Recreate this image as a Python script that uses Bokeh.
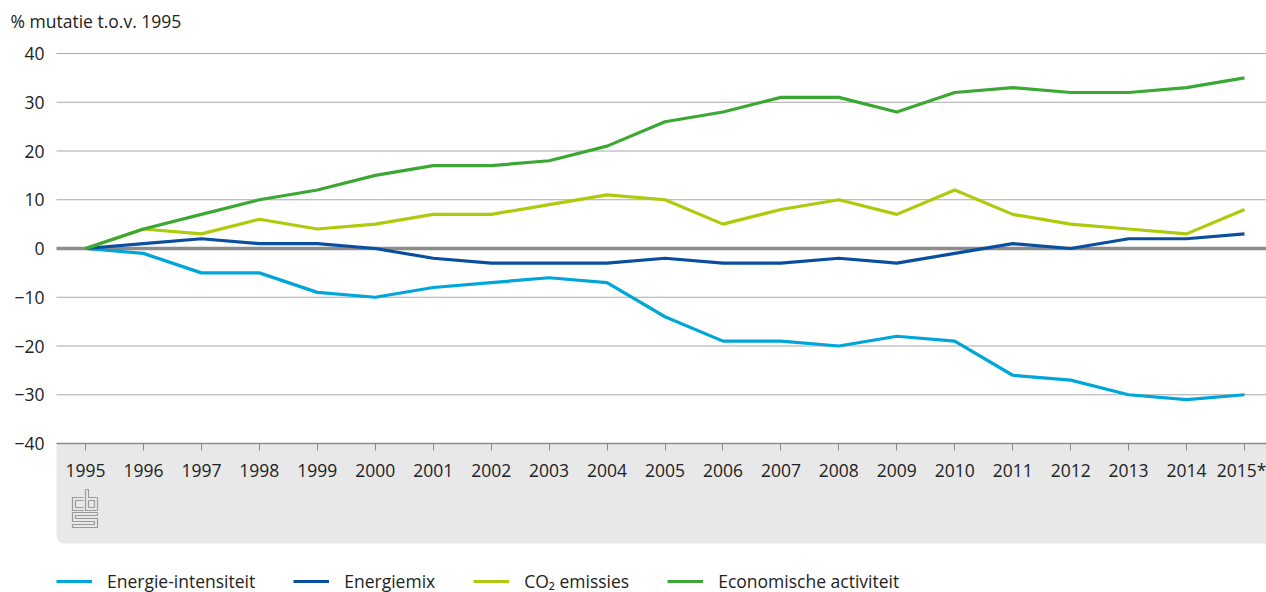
from bokeh.plotting import figure
from bokeh.models import (FixedTicker, Legend, LegendItem, BoxAnnotation, Label)
from bokeh.embed import file_html
from bokeh.resources import INLINE

# --- data: % change relative to 1995 ---
years = list(range(1995, 2016))
year_labels = [str(y) for y in years[:-1]] + ["2015*"]
energie_intensiteit = [0, -1, -5, -5, -9, -10, -8, -7, -6, -7, -14, -19, -19, -20, -18, -19, -26, -27, -30, -31, -30]
energiemix = [0, 1, 2, 1, 1, 0, -2, -3, -3, -3, -2, -3, -3, -2, -3, -1, 1, 0, 2, 2, 3]
co2_emissies = [0, 4, 3, 6, 4, 5, 7, 7, 9, 11, 10, 5, 8, 10, 7, 12, 7, 5, 4, 3, 8]
economische_activiteit = [0, 4, 7, 10, 12, 15, 17, 17, 18, 21, 26, 28, 31, 31, 28, 32, 33, 32, 32, 33, 35]
series_names = ["Energie-intensiteit", "Energiemix", "CO\u2082 emissies", "Economische activiteit"]
series_colors = ["#00a6d9", "#0a4f9e", "#afca0b", "#3ca834"]
y_ticks = [-40, -30, -20, -10, 0, 10, 20, 30, 40]

FONT = "Open Sans"
FS = "17.5px"
TEXT = "#222222"

# canvas geometry (pixels) used to size the ranges; the frame fills the canvas
W, H = 1266, 592
LEFT, TOP = 56, 53          # left edge of the plotting area, pixel row of the 40 line
PX_PER_YEAR = 57.95
PX_PER_UNIT = 4.875
x_plot = 1995 - (85 - LEFT) / PX_PER_YEAR          # left edge of grid / band
x_lo = x_plot - LEFT / PX_PER_YEAR
x_hi = x_plot + (W - LEFT) / PX_PER_YEAR
y_hi = 40 + TOP / PX_PER_UNIT
y_lo = 40 - (H - TOP) / PX_PER_UNIT
band_bottom = 40 - (543 - TOP) / PX_PER_UNIT

p = figure(width=W, height=H, output_backend="svg", toolbar_location=None,
           x_range=(x_lo, x_hi), y_range=(y_lo, y_hi),
           min_border=0)
p.outline_line_color = None
p.background_fill_color = "white"
p.border_fill_color = "white"
p.xgrid.visible = False
p.ygrid.visible = False

# unit caption, top-left
p.add_layout(Label(x=x_lo + 10 / PX_PER_YEAR, y=y_hi - 20 / PX_PER_UNIT,
                   text="% mutatie t.o.v. 1995", text_font=FONT, text_font_size=FS,
                   text_color=TEXT, text_baseline="middle", text_align="left"))

# grey band holding the x-axis labels and logo
band = BoxAnnotation(left=x_plot, right=x_hi, top=-40, bottom=band_bottom,
                     fill_color="#e8e8e8", fill_alpha=1, line_color=None,
                     level="underlay", border_radius=(0, 0, 0, 8))
p.add_layout(band)

# horizontal grid lines and the heavier zero line
grid_y = [t for t in y_ticks if t not in (0, -40)]
p.segment(x0=[x_plot] * len(grid_y), y0=grid_y, x1=[x_hi] * len(grid_y), y1=grid_y,
          line_color="#a8a8a8", line_width=1)
p.segment(x0=[x_plot], y0=[0], x1=[x_hi], y1=[0], line_color="#8c8c8c", line_width=3.5)

# y axis pinned to the left edge of the plotting area
p.yaxis.fixed_location = x_plot
p.yaxis.ticker = FixedTicker(ticks=y_ticks)
p.yaxis.major_label_overrides = {t: (("\u2212" + str(-t)) if t < 0 else str(t)) for t in y_ticks}
p.yaxis.axis_line_color = None
p.yaxis.major_tick_line_color = None
p.yaxis.major_tick_out = 0
p.yaxis.major_tick_in = 0
p.yaxis.minor_tick_line_color = None
p.yaxis.minor_tick_out = 0
p.yaxis.minor_tick_in = 0
p.yaxis.major_label_standoff = 12
p.yaxis.major_label_text_font = FONT
p.yaxis.major_label_text_font_size = FS
p.yaxis.major_label_text_color = TEXT

# x axis pinned to the -40 line
p.xaxis.fixed_location = -40
p.xaxis.bounds = (x_plot, x_hi)
p.xaxis.ticker = FixedTicker(ticks=years)
p.xaxis.major_label_overrides = dict(zip(years, year_labels))
p.xaxis.axis_line_color = "#8c8c8c"
p.xaxis.axis_line_width = 1.5
p.xaxis.major_tick_line_color = "#8c8c8c"
p.xaxis.major_tick_in = 0
p.xaxis.major_tick_out = 7
p.xaxis.minor_tick_line_color = None
p.xaxis.major_label_standoff = 7
p.xaxis.major_label_text_font = FONT
p.xaxis.major_label_text_font_size = FS
p.xaxis.major_label_text_color = TEXT

# series
renderers = []
for vals, col in zip([energie_intensiteit, energiemix, co2_emissies, economische_activiteit], series_colors):
    r = p.line(years, vals, line_color=col, line_width=3.2, line_join="round")
    renderers.append(r)

# small logo in the grey band (outline strokes, pixel offsets converted to data)
def px(xp, yp):
    return x_lo + xp / PX_PER_YEAR, y_hi - yp / PX_PER_UNIT

logo_paths = [
    [(83, 497), (72, 497), (72, 510), (83, 510)],
    [(83, 500), (75, 500), (75, 507), (83, 507)],
    [(85, 489), (85, 510), (97, 510), (97, 497), (88, 497), (88, 489), (85, 489)],
    [(88, 500), (94, 500), (94, 507), (88, 507), (88, 500)],
    [(97, 512), (72, 512), (72, 521), (94, 521), (94, 524), (72, 524), (72, 527),
     (97, 527), (97, 518), (75, 518), (75, 515), (97, 515), (97, 512)],
]
lx, ly = [], []
for path in logo_paths:
    pts = [px(a, b) for a, b in path]
    lx.append([q[0] for q in pts])
    ly.append([q[1] for q in pts])
p.multi_line(lx, ly, line_color="#9a9a9a", line_width=1.2)

# legend along the bottom
legend = Legend(items=[LegendItem(label=n, renderers=[r]) for n, r in zip(series_names, renderers)],
                orientation="horizontal", location=(LEFT, -1),
                background_fill_alpha=0, border_line_color=None,
                padding=0, margin=0, spacing=38, label_standoff=15,
                glyph_width=36, glyph_height=20, label_height=20,
                label_text_font=FONT, label_text_font_size=FS, label_text_color=TEXT)
p.add_layout(legend)

open("out.html", "w").write(file_html(p, INLINE))
